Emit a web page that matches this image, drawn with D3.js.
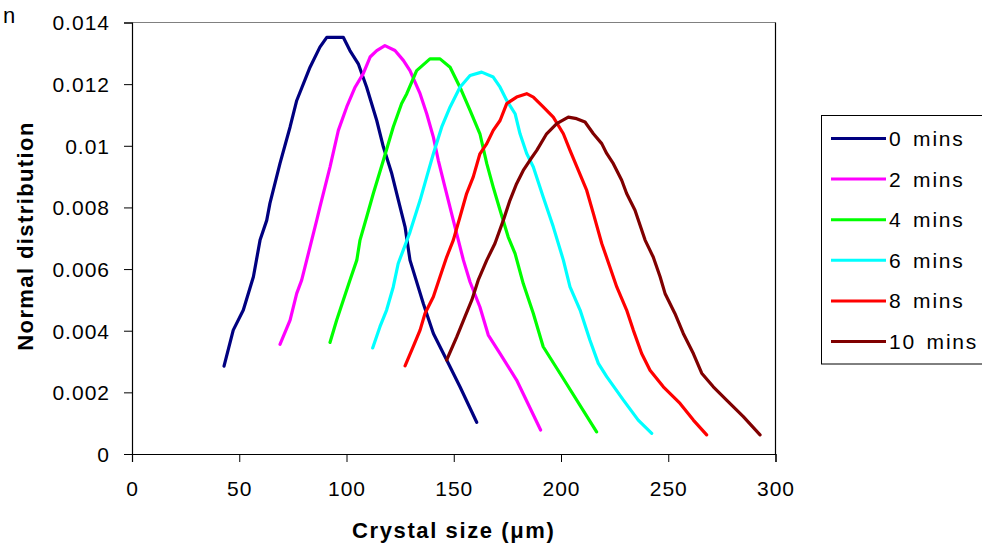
<!DOCTYPE html>
<html>
<head>
<meta charset="utf-8">
<script src="https://cdn.jsdelivr.net/npm/d3@7"></script>
<style>
  body { margin: 0; background: #fff; }
  text { font-family: "Liberation Sans", Arial, sans-serif; }
</style>
</head>
<body>
<div id="chart"></div>
<script>
// series names and colours
const seriesNames = ["0 mins", "2 mins", "4 mins", "6 mins", "8 mins", "10 mins"];
const seriesColors = ["#000080", "#ff00ff", "#00ff00", "#00ffff", "#ff0000", "#800000"];

// tick labels
const xTicks = [0, 50, 100, 150, 200, 250, 300];
const yTicks = [0, 0.002, 0.004, 0.006, 0.008, 0.01, 0.012, 0.014];

// [crystal size, normal distribution]
const min0 = [[42.9,0.00285],[47.2,0.00402],[51.9,0.00467],[56.6,0.00575],[59.7,0.00694],[62.8,0.00758],[64.3,0.00813],[69.0,0.00943],[73.7,0.01061],[76.8,0.01147],[83.0,0.01255],[87.6,0.0132],[90.8,0.01352],[98.5,0.01352],[101.6,0.01309],[105.5,0.01266],[109.4,0.0119],[114.1,0.01082],[117.2,0.00996],[121.1,0.0091],[124.2,0.00823],[127.3,0.00737],[129.6,0.00629],[135.8,0.00488],[140.5,0.00391],[146.7,0.00305],[152.9,0.00218],[160.7,0.00103]];
const min2 = [[69.0,0.00356],[73.7,0.00434],[76.8,0.00521],[79.1,0.00564],[83.0,0.00672],[86.1,0.00758],[87.6,0.00801],[92.3,0.00931],[96.2,0.0105],[100.1,0.01126],[104.0,0.0119],[107.8,0.01234],[111.0,0.01288],[114.1,0.01309],[117.9,0.01325],[122.6,0.01309],[126.5,0.01277],[129.6,0.01244],[134.3,0.01169],[137.4,0.01104],[140.5,0.01028],[142.8,0.00953],[145.9,0.00866],[149.8,0.00758],[154.5,0.00629],[157.6,0.00558],[162.2,0.00477],[166.1,0.00386],[171.6,0.00326],[179.3,0.0024],[190.5,0.00078]];
const min4 = [[92.3,0.00362],[95.4,0.00434],[98.5,0.00499],[101.6,0.00564],[104.8,0.00629],[106.3,0.00694],[109.4,0.00769],[112.5,0.00845],[117.2,0.00953],[121.8,0.01061],[125.7,0.01137],[128.1,0.01169],[132.7,0.01244],[138.9,0.01282],[143.6,0.01282],[148.3,0.01255],[152.9,0.0119],[157.6,0.01115],[162.2,0.01039],[165.4,0.00942],[168.4,0.00866],[171.6,0.00791],[175.4,0.00704],[178.6,0.0065],[182.4,0.00553],[187.1,0.00456],[191.7,0.00348],[199.5,0.00262],[216.6,0.00072]];
const min6 = [[112.2,0.00344],[115.6,0.00413],[118.7,0.00467],[121.8,0.00542],[124.1,0.00618],[127.3,0.00677],[129.6,0.0072],[134.3,0.00823],[137.4,0.00899],[140.5,0.00974],[144.4,0.01061],[148.3,0.01126],[152.9,0.0119],[157.6,0.01228],[163.0,0.01239],[168.4,0.01223],[171.6,0.0119],[174.7,0.01147],[178.6,0.01104],[180.9,0.01039],[184.0,0.00975],[187.1,0.00931],[191.7,0.00834],[196.4,0.00737],[201.1,0.00629],[204.2,0.00542],[208.9,0.00467],[213.5,0.00369],[217.4,0.00294],[221.3,0.00251],[229.1,0.00175],[236.0,0.0011],[242.3,0.00067]];
const min8 = [[127.3,0.00286],[131.1,0.00348],[134.3,0.00402],[136.6,0.00456],[140.5,0.0051],[143.6,0.00575],[146.7,0.00639],[149.8,0.00694],[152.9,0.00769],[156.0,0.00845],[159.1,0.00899],[162.2,0.00974],[165.4,0.01007],[168.4,0.0105],[171.6,0.01082],[174.7,0.01137],[179.3,0.01158],[184.0,0.01169],[187.1,0.01158],[191.7,0.01126],[196.4,0.01093],[201.1,0.01039],[204.2,0.00985],[208.1,0.0092],[212.0,0.00855],[215.1,0.0078],[219.0,0.00683],[222.8,0.00607],[226.0,0.00542],[230.6,0.00467],[233.7,0.00402],[237.6,0.00326],[241.5,0.00272],[247.7,0.00218],[255.5,0.00164],[261.7,0.0011],[267.9,0.00062]];
const min10 = [[146.7,0.00305],[151.4,0.0038],[155.2,0.00445],[158.4,0.00499],[161.4,0.00564],[165.4,0.00629],[169.2,0.00683],[173.1,0.00758],[176.2,0.00823],[179.3,0.00877],[182.4,0.0092],[185.5,0.00953],[188.7,0.00985],[193.3,0.01039],[198.0,0.01072],[203.4,0.01093],[207.3,0.01088],[211.2,0.01077],[215.1,0.01039],[219.0,0.01007],[221.3,0.00975],[224.4,0.00942],[228.3,0.00888],[230.6,0.00845],[234.5,0.00791],[239.2,0.00694],[243.0,0.00639],[246.2,0.00575],[248.5,0.00521],[253.1,0.00456],[257.0,0.00391],[261.7,0.00326],[265.6,0.00262],[271.0,0.00218],[277.2,0.00175],[285.0,0.00121],[292.8,0.00062]];

function main() {
    const series = [min0, min2, min4, min6, min8, min10];
    drawChart(series);
}

function drawChart(series) {
    const width = 982, height = 544;
    const plot = {left: 132, right: 775.5, top: 22.5, bottom: 454};

    const svg = d3.select("#chart")
        .append("svg")
        .attr("width", width)
        .attr("height", height);

    const xScale = d3.scaleLinear().domain([0, 300]).range([plot.left, plot.right]);
    const yScale = d3.scaleLinear().domain([0, 0.014]).range([plot.bottom, plot.top]);

    // plot frame: grey top, black right
    svg.append("line")
        .attr("x1", plot.left).attr("x2", plot.right)
        .attr("y1", plot.top).attr("y2", plot.top)
        .attr("stroke", "#808080").attr("stroke-width", 1.2);
    svg.append("line")
        .attr("x1", plot.right).attr("x2", plot.right)
        .attr("y1", plot.top).attr("y2", plot.bottom)
        .attr("stroke", "#000").attr("stroke-width", 1.2);

    // x axis
    const xAxis = svg.append("g")
        .attr("transform", `translate(0, ${plot.bottom})`)
        .call(d3.axisBottom(xScale).tickValues(xTicks).tickSize(8).tickPadding(19).tickFormat(d3.format("d")));
    // y axis
    const yAxis = svg.append("g")
        .attr("transform", `translate(${plot.left}, 0)`)
        .call(d3.axisLeft(yScale).tickValues(yTicks).tickSize(8).tickPadding(14).tickFormat(d => +d.toFixed(3) + ""));

    [xAxis, yAxis].forEach(function(ax) {
        ax.select(".domain").attr("stroke", "#000").attr("stroke-width", 1.2);
        ax.selectAll(".tick line").attr("stroke", "#000");
        ax.selectAll(".tick text")
            .attr("fill", "#000")
            .style("font-size", "21px")
            .style("letter-spacing", "1px")
            .style("font-family", "'Liberation Sans', Arial, sans-serif");
    });
    yAxis.selectAll(".tick text").attr("dy", "0.35em");

    // lines
    const line = d3.line()
        .x(function(d) { return xScale(d[0]); })
        .y(function(d) { return yScale(d[1]); });

    svg.selectAll(".series")
        .data(series)
        .enter()
        .append("path")
        .attr("class", "series")
        .attr("d", line)
        .attr("fill", "none")
        .attr("stroke", function(d, i) { return seriesColors[i]; })
        .attr("stroke-width", 3.2)
        .attr("stroke-linejoin", "round")
        .attr("stroke-linecap", "round");

    // axis titles
    svg.append("text")
        .attr("x", (plot.left + plot.right) / 2)
        .attr("y", 538)
        .attr("text-anchor", "middle")
        .style("font-size", "22px")
        .style("font-weight", "bold")
        .style("letter-spacing", "1.6px")
        .text("Crystal size (μm)");

    svg.append("text")
        .attr("transform", `translate(33, 236) rotate(-90)`)
        .attr("text-anchor", "middle")
        .style("font-size", "22px")
        .style("font-weight", "bold")
        .style("letter-spacing", "1.4px")
        .text("Normal distribution");

    // stray text top-left
    svg.append("text")
        .attr("x", 3)
        .attr("y", 23)
        .style("font-size", "22px")
        .text("n");

    // legend
    const legend = svg.append("g");
    legend.append("rect")
        .attr("x", 821.5).attr("y", 115.5)
        .attr("width", 170).attr("height", 248.5)
        .attr("fill", "#fff")
        .attr("stroke", "#000").attr("stroke-width", 1);

    const rows = legend.selectAll(".row")
        .data(seriesNames)
        .enter()
        .append("g")
        .attr("class", "row")
        .attr("transform", function(d, i) { return `translate(0, ${138.5 + i * 40.6})`; });
    rows.append("line")
        .attr("x1", 831).attr("x2", 886)
        .attr("stroke", function(d, i) { return seriesColors[i]; })
        .attr("stroke-width", 3);
    rows.append("text")
        .attr("x", 889)
        .attr("dy", "0.36em")
        .style("font-size", "21px")
        .style("letter-spacing", "1.8px")
        .style("word-spacing", "3px")
        .text(function(d) { return d; });
}

main();
</script>
</body>
</html>
